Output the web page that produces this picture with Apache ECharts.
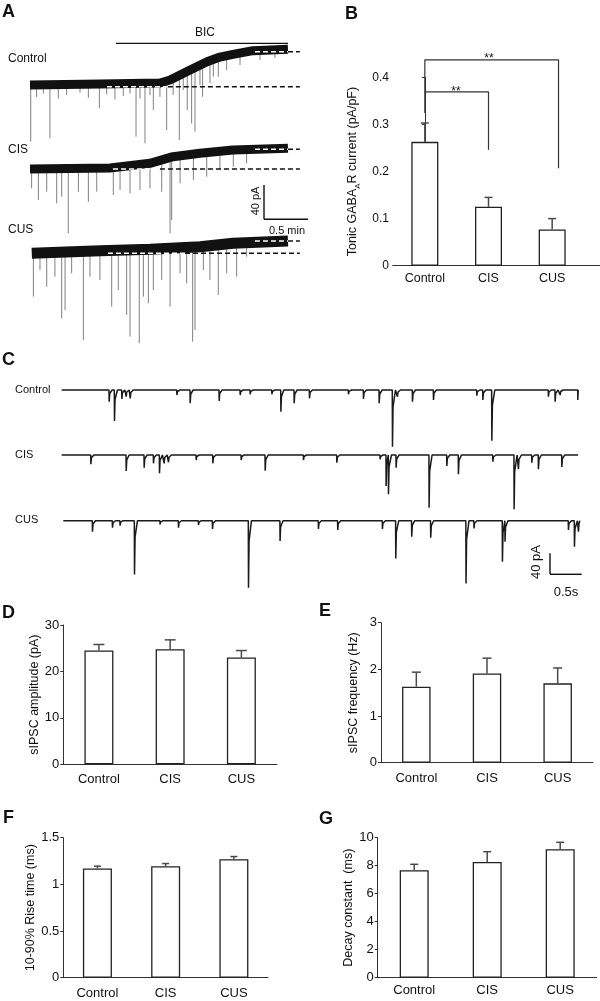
<!DOCTYPE html>
<html>
<head>
<meta charset="utf-8">
<script src="https://cdn.jsdelivr.net/npm/echarts@6/dist/echarts.min.js"></script>
<style>
  html, body { margin: 0; background: #fff; }
  #chart { width: 600px; height: 1001px; }
</style>
</head>
<body>
<div id="chart"></div>
<script>
const FONT = 'Liberation Sans, Arial, Helvetica, sans-serif'
const groups = ['Control', 'CIS', 'CUS']

// B: tonic GABA-A R current (pA/pF), mean and SEM
const tonicMean = [0.263, 0.125, 0.077]
const tonicSem = [0.040, 0.020, 0.023]
// brackets over B: [group position, pA/pF]
const sigCUS = [[0, 0.324], [0, 0.437], [2.1, 0.437], [2.1, 0.207]]
const sigCIS = [[0, 0.369], [1, 0.369], [1, 0.246]]

// D-G
const ampMean = [24.5, 24.8, 23.0]
const ampSem = [1.3, 2.0, 1.5]
const freqMean = [1.63, 1.91, 1.70]
const freqSem = [0.31, 0.33, 0.33]
const riseMean = [1.17, 1.195, 1.27]
const riseSem = [0.025, 0.028, 0.028]
const decayMean = [7.67, 8.26, 9.17]
const decaySem = [0.43, 0.74, 0.50]

// A: tonic current traces. time in s, current in pA (0 = start of trace)
const ctrlBand = [[0, 0], [47.7, 1.2], [88.6, 2.4], [95.5, 5.9], [102.3, 11.8], [109.1, 17.6], [120.7, 27.4], [129.5, 32.9], [138.4, 36.1], [152, 40.4], [175.9, 42]]
const ctrlSpikes = [[0.5, -66.7], [4.5, -14], [9.1, -10], [13.6, -62.7], [19.3, -16], [25, -12], [34.1, -9], [39.8, -15], [47.3, -27.4], [52.3, -11], [57.9, -17], [63.6, -13], [68.2, -10], [72.3, -60.8], [75, -16], [78.4, -68.6], [81.8, -12], [84.1, -29.4], [88.6, -14], [93.2, -52.9], [97.6, -11.8], [101.8, -64.7], [104.5, -5.9], [107.2, -29.4], [110.2, -45.1], [112.5, -54.9], [115.9, 0], [117.7, -13.8], [122.7, 2], [125, 9.8], [128.4, 9.8], [134.1, 17.6], [143.2, 23.5], [156.8, 29.4], [167, 31.8]]
const cisBand = [[0, 0], [54.5, 1.2], [81.8, 6.7], [97.5, 14.5], [115.9, 18.5], [138.4, 22.4], [175.9, 24.4]]
const cisSpikes = [[1.1, -22.7], [5.7, -36.5], [11.4, -26.7], [18.2, -40.4], [21.6, -32.6], [26.1, -75.6], [33, -26.7], [39.8, -38.5], [45.5, -26.7], [56.8, -30.6], [61.4, -24.7], [68.2, -28.6], [75, -24.7], [81.8, -22.7], [89.8, -26.7], [95.5, -75.6], [96.6, -60], [102.3, -16.8], [111.4, -12.9], [120.5, -9], [129.5, -1.2], [138.6, 2.7], [147.7, 6.7]]
const cusBand = [[1.2, 0], [47.9, 3.1], [82, 4.7], [116, 7.8], [138.4, 11.8], [175.9, 14.5]]
const cusSpikes = [[2.3, -51], [6.8, -19.6], [11.4, -39.3], [17, -27.5], [21.6, -76.5], [23.9, -66.7], [28.4, -23.5], [36.4, -102], [40.9, -27.5], [47.7, -31.4], [55.7, -62.8], [60.2, -43.2], [65.9, -72.5], [68.2, -98.1], [74.5, -105.9], [77.3, -51], [80.7, -58.8], [84.1, -43.2], [89.8, -31.4], [95.5, -62.8], [102.3, -23.5], [106.8, -35.3], [110.9, -104], [112.5, -90.2], [118.2, -19.6], [122.7, -31.4], [128.4, -49], [134.1, -23.5], [140.9, -27.5], [147.7, -4]]
// dashed reference levels: [level pA, white from, black from, end]
const ctrlDash = [[-2, 52.5, 94, 184], [39.2, 153.4, 175.9, 184]]
const cisDash = [[0, 56.6, 88.6, 184], [23.2, 153.4, 175.9, 184]]
const cusDash = [[0, 53.2, 105.7, 184], [14.5, 153.4, 175.9, 184]]
const bicOn = [58.6, 175.9]

// C: sIPSC traces, events as [time s, amplitude pA]
const ctrlEvents = [[0.747, 22.8], [0.831, 60.5], [0.948, 17.6], [1.016, 13], [1.08, 16.2], [1.817, 9.8], [2.027, 26], [2.485, 21.5], [2.817, 9.8], [2.975, 8.4], [3.318, 8.4], [3.46, 42.3], [3.67, 26], [3.912, 16.2], [4.528, 8.4], [4.765, 17.6], [5.013, 26], [5.223, 110.6], [5.302, 13], [5.539, 22.8], [5.871, 19.5], [6.556, 11.1], [6.651, 19.5], [6.793, 98.9], [7.687, 13], [7.793, 22.8], [7.872, 9.8], [8.152, 19.5]]
const cisEvents = [[0.458, 18.1], [1.016, 31.2], [1.3, 24.8], [1.447, 16.2], [1.542, 35.7], [1.616, 16.2], [1.684, 14.2], [2.122, 9.8], [2.385, 16.2], [2.833, 9.8], [3.212, 30.6], [3.817, 9.8], [4.344, 15], [5.028, 8.4], [5.123, 60.5], [5.16, 76.7], [5.281, 24.8], [5.802, 102.8], [6.082, 21.5], [6.265, 37.7], [6.809, 13], [7.145, 106], [7.213, 27.9], [7.425, 15], [7.529, 27.9], [7.899, 23.4]]
const cusEvents = [[0.458, 21.5], [0.774, 13.7], [0.894, 9.8], [1.122, 104.8], [1.526, 7.2], [1.817, 13.7], [2.133, 8.4], [2.354, 16.2], [2.923, 130.7], [3.422, 39.6], [4.028, 16.2], [4.333, 18.1], [5.039, 16.2], [5.25, 73.6], [5.502, 31.2], [5.802, 33.2], [6.36, 122.3], [6.486, 15], [6.935, 80], [6.976, 41], [7.978, 18.1], [8.073, 50.7], [8.136, 21.5]]
const sweepEnd = 8.16

const grids = []
const xAxes = []
const yAxes = []
const series = []

function addGrid(box) {
  grids.push(Object.assign({ containLabel: false, outerBoundsMode: 'none' }, box))
  return grids.length - 1
}

function hiddenAxes(gi, xMin, xMax, yMin, yMax) {
  xAxes.push({ gridIndex: gi, type: 'value', min: xMin, max: xMax, show: false })
  yAxes.push({ gridIndex: gi, type: 'value', min: yMin, max: yMax, show: false })
  return [xAxes.length - 1, yAxes.length - 1]
}

function errRender(cap) {
  return function (params, api) {
    const base = api.coord([api.value(0), api.value(1)])
    const top = api.coord([api.value(0), api.value(1) + api.value(2)])
    const st = { stroke: '#4a4a4a', lineWidth: 1.5 }
    return {
      type: 'group',
      children: [
        { type: 'line', shape: { x1: base[0], y1: base[1], x2: top[0], y2: top[1] }, style: st },
        { type: 'line', shape: { x1: top[0] - cap / 2, y1: top[1], x2: top[0] + cap / 2, y2: top[1] }, style: st },
      ],
    }
  }
}

function barPanel(box, yMax, yStep, mean, sem, yName, o) {
  const gi = addGrid(box)
  xAxes.push({
    gridIndex: gi,
    type: 'category',
    data: groups,
    axisTick: { show: false },
    axisLine: { lineStyle: { color: '#333', width: 1 } },
    axisLabel: { interval: 0, margin: o.catGap, fontSize: o.catSize || 13, color: '#111', fontFamily: FONT },
  })
  const xi = xAxes.length - 1
  yAxes.push({
    gridIndex: gi,
    type: 'value',
    min: 0,
    max: yMax,
    interval: yStep,
    axisLine: { show: true, lineStyle: { color: '#333', width: 1 } },
    axisTick: { show: true, length: 3, lineStyle: { color: '#333' } },
    splitLine: { show: false },
    axisLabel: { margin: 4, fontSize: o.tickSize || 13, color: '#111', fontFamily: FONT },
    name: yName,
    nameLocation: 'middle',
    nameGap: o.nameGap,
    nameTextStyle: Object.assign({ fontSize: 12.5, color: '#111', fontFamily: FONT }, o.nameStyle || {}),
  })
  const yi = yAxes.length - 1
  series.push({
    type: 'bar',
    xAxisIndex: xi,
    yAxisIndex: yi,
    data: mean,
    barWidth: o.barWidth,
    itemStyle: { color: '#fff', borderColor: '#222', borderWidth: 1.3 },
    silent: true,
  })
  series.push({
    type: 'custom',
    xAxisIndex: xi,
    yAxisIndex: yi,
    data: mean.map((m, i) => [i, m, sem[i]]),
    renderItem: errRender(o.cap),
    z: 3,
    silent: true,
  })
  return { gi, xi, yi }
}

function bandLevel(band, t) {
  if (t <= band[0][0]) return band[0][1]
  for (let i = 1; i < band.length; i++) {
    if (t <= band[i][0]) {
      const [t0, v0] = band[i - 1]
      const [t1, v1] = band[i]
      return v0 + (v1 - v0) * (t - t0) / (t1 - t0)
    }
  }
  return band[band.length - 1][1]
}

function tonicTrace(box, yMin, yMax, band, spikes, dashes, width) {
  const gi = addGrid(box)
  const [xi, yi] = hiddenAxes(gi, 0, 184.1, yMin, yMax)
  series.push({
    type: 'custom',
    xAxisIndex: xi,
    yAxisIndex: yi,
    data: spikes,
    clip: false,
    silent: true,
    z: 1,
    renderItem: (params, api) => {
      const t = api.value(0)
      const a = api.coord([t, bandLevel(band, t)])
      const b = api.coord([t, api.value(1)])
      return { type: 'line', shape: { x1: a[0], y1: a[1], x2: b[0], y2: b[1] }, style: { stroke: '#808080', lineWidth: 1 } }
    },
  })
  series.push({
    type: 'line',
    xAxisIndex: xi,
    yAxisIndex: yi,
    data: band,
    showSymbol: false,
    silent: true,
    z: 2,
    lineStyle: { color: '#111', width: width, cap: 'butt', join: 'round' },
  })
  dashes.forEach(([lvl, w0, b0, end]) => {
    [[w0, b0, '#fff'], [b0, end, '#111']].forEach(([s, e, c]) => {
      series.push({
        type: 'line',
        xAxisIndex: xi,
        yAxisIndex: yi,
        data: [[s, lvl], [e, lvl]],
        showSymbol: false,
        silent: true,
        z: 4,
        lineStyle: { color: c, width: 1.4, type: [5, 3] },
      })
    })
  })
  return { gi, xi, yi }
}

// each event: sharp onset, quick partial recovery, back to baseline
function sipscPoints(events, tEnd) {
  const pts = [[0, 0]]
  events.forEach(([t, amp], i) => {
    const next = i + 1 < events.length ? events[i + 1][0] : tEnd
    pts.push([t, 0], [t + 0.003, -amp])
    if (t + 0.012 < next) pts.push([t + 0.012, -amp * 0.3])
    if (t + 0.05 < next) pts.push([t + 0.05, 0])
  })
  pts.push([tEnd, 0])
  return pts
}

function sipscTrace(box, yMin, yMax, events) {
  const gi = addGrid(box)
  const [xi, yi] = hiddenAxes(gi, 0, 8.2, yMin, yMax)
  series.push({
    type: 'line',
    xAxisIndex: xi,
    yAxisIndex: yi,
    data: sipscPoints(events, sweepEnd),
    showSymbol: false,
    silent: true,
    clip: false,
    lineStyle: { color: '#1a1a1a', width: 1.5 },
  })
}

// ---- panel A
const pxA = 0.85 // px per pA
const ctrlA = tonicTrace({ left: 30, width: 270, top: 85 - 50 * pxA, height: 130 * pxA }, -80, 50, ctrlBand, ctrlSpikes, ctrlDash, 9)
tonicTrace({ left: 30, width: 270, top: 169 - 30 * pxA, height: 120 * pxA }, -90, 30, cisBand, cisSpikes, cisDash, 9)
tonicTrace({ left: 30, width: 270, top: 253.3 - 25 * pxA, height: 140 * pxA }, -115, 25, cusBand, cusSpikes, cusDash, 11)
series.push({
  type: 'line',
  xAxisIndex: ctrlA.xi,
  yAxisIndex: ctrlA.yi,
  data: [[bicOn[0], 49], [bicOn[1], 49]],
  showSymbol: false,
  silent: true,
  lineStyle: { color: '#111', width: 1.4 },
})

// ---- panel B
const b = barPanel({ left: 393, top: 77.3, width: 191, height: 188.4 }, 0.4, 0.1, tonicMean, tonicSem,
  '{a|Tonic GABA}{s|A}{a|R current (pA/pF)}',
  {
    catGap: 6, catSize: 12.5, tickSize: 12, nameGap: 31, barWidth: 27, cap: 8,
    nameStyle: {
      rich: {
        a: { fontSize: 12.5, lineHeight: 18, color: '#111', fontFamily: FONT },
        s: { fontSize: 8, lineHeight: 8, verticalAlign: 'bottom', color: '#111', fontFamily: FONT },
      },
    },
  })
// axis line of B runs past the last group
const bExt = addGrid({ left: 393, top: 77.3, width: 207, height: 188.4 })
xAxes.push({ gridIndex: bExt, type: 'value', min: 0, max: 1, axisLine: { show: true, lineStyle: { color: '#333' } }, axisTick: { show: false }, axisLabel: { show: false }, splitLine: { show: false } })
yAxes.push({ gridIndex: bExt, type: 'value', min: 0, max: 1, show: false })
xAxes.push({ gridIndex: b.gi, type: 'value', min: -0.5, max: 2.5, show: false })
const bxPos = xAxes.length - 1
;[sigCUS, sigCIS].forEach(d => {
  series.push({
    type: 'line',
    xAxisIndex: bxPos,
    yAxisIndex: b.yi,
    data: d,
    showSymbol: false,
    silent: true,
    clip: false,
    lineStyle: { color: '#333', width: 1.2 },
  })
})

// ---- panel C
const pxC = 0.5125
sipscTrace({ left: 61.7, width: 519, top: 390 - 15 * pxC, height: 135 * pxC }, -120, 15, ctrlEvents)
sipscTrace({ left: 61.7, width: 519, top: 455 - 15 * pxC, height: 130 * pxC }, -115, 15, cisEvents)
sipscTrace({ left: 63.3, width: 519, top: 520.7 - 15 * pxC, height: 155 * pxC }, -140, 15, cusEvents)

// ---- panels D-G
barPanel({ left: 63.3, top: 625, width: 213.7, height: 139.3 }, 30, 10, ampMean, ampSem,
  'sIPSC amplitude (pA)', { catGap: 9, nameGap: 22, barWidth: 29, cap: 11 })
barPanel({ left: 381, top: 622.7, width: 212, height: 140 }, 3, 1, freqMean, freqSem,
  'sIPSC frequency (Hz)', { catGap: 9, nameGap: 21, barWidth: 28.5, cap: 9 })
barPanel({ left: 63.3, top: 837.7, width: 204.7, height: 140 }, 1.5, 0.5, riseMean, riseSem,
  '10-90% Rise time (ms)', { catGap: 9, nameGap: 22, barWidth: 29, cap: 7 })
barPanel({ left: 377.7, top: 837.7, width: 219, height: 140 }, 10, 2, decayMean, decaySem,
  'Decay constant  (ms)', { catGap: 6, nameGap: 20, barWidth: 29, cap: 8 })

// ---- labels, scale bars
function txt(text, x, y, size, o) {
  o = o || {}
  return {
    type: 'text',
    x: x,
    y: y,
    rotation: o.rot || 0,
    silent: true,
    style: {
      text: text,
      font: (o.bold ? 'bold ' : '') + size + 'px ' + FONT,
      fill: '#111',
      align: o.align || 'left',
      textAlign: o.align || 'left',
      verticalAlign: 'middle',
      textVerticalAlign: 'middle',
    },
  }
}
function seg(x1, y1, x2, y2, w) {
  return { type: 'line', silent: true, shape: { x1, y1, x2, y2 }, style: { stroke: '#111', lineWidth: w || 1.4 } }
}

const graphic = [
  txt('A', 2, 12, 18, { bold: true }),
  txt('B', 345, 14, 18, { bold: true }),
  txt('C', 2, 360, 18, { bold: true }),
  txt('D', 2, 613, 18, { bold: true }),
  txt('E', 319, 611, 18, { bold: true }),
  txt('F', 3, 818, 18, { bold: true }),
  txt('G', 319, 819, 18, { bold: true }),
  txt('BIC', 205, 33, 12, { align: 'center' }),
  txt('Control', 8, 59, 12),
  txt('CIS', 8, 150, 12),
  txt('CUS', 8, 230, 12),
  seg(264, 185, 264, 219.3),
  seg(264, 219.3, 308, 219.3),
  txt('40 pA', 256, 201, 11, { align: 'center', rot: Math.PI / 2 }),
  txt('0.5 min', 287, 231, 11, { align: 'center' }),
  txt('**', 456, 92, 12, { align: 'center' }),
  txt('**', 489, 59, 12, { align: 'center' }),
  txt('Control', 15, 390, 11),
  txt('CIS', 15, 455, 11),
  txt('CUS', 15, 520, 11),
  seg(550, 553.3, 550, 574.3),
  seg(550, 574.3, 581.7, 574.3),
  txt('40 pA', 536, 562, 13, { align: 'center', rot: Math.PI / 2 }),
  txt('0.5s', 566, 592, 13, { align: 'center' }),
]

const chart = echarts.init(document.getElementById('chart'), null, { renderer: 'canvas' })
chart.setOption({
  animation: false,
  backgroundColor: '#fff',
  textStyle: { fontFamily: FONT },
  grid: grids,
  xAxis: xAxes,
  yAxis: yAxes,
  series: series,
  graphic: graphic,
})
</script>
</body>
</html>
